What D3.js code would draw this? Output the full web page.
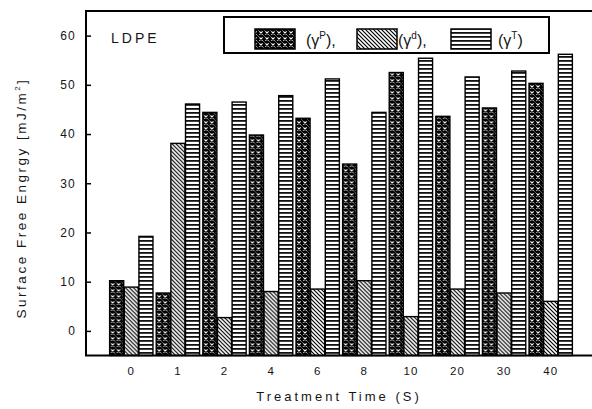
<!DOCTYPE html>
<html>
<head>
<meta charset="utf-8">
<script src="https://cdn.jsdelivr.net/npm/d3@7"></script>
<style>
  html, body { margin: 0; padding: 0; background: #fff; }
  svg { display: block; }
  text { font-family: "Liberation Sans", Arial, sans-serif; fill: #151515; }
</style>
</head>
<body>
<svg id="chart" width="592" height="409"></svg>
<script>
// Treatment times (s) and the three surface free energy components (mJ/m²)
const times = ["0", "1", "2", "4", "6", "8", "10", "20", "30", "40"];
const gammaP = [10.2, 7.7, 44.4, 39.8, 43.2, 33.9, 52.5, 43.6, 45.3, 50.3];
const gammaD = [8.9, 38.1, 2.7, 8.0, 8.5, 10.2, 2.9, 8.5, 7.7, 6.0];
const gammaT = [19.2, 46.1, 46.5, 47.8, 51.2, 44.4, 55.4, 51.6, 52.8, 56.2];
const seriesKeys = ["P", "d", "T"];
const yTicks = [0, 10, 20, 30, 40, 50, 60];

const svg = d3.select("#chart");

// fill patterns for the three series
const defs = svg.append("defs");

const pDots = defs.append("pattern").attr("id", "pat-P")
  .attr("patternUnits", "userSpaceOnUse").attr("width", 6).attr("height", 6);
pDots.append("rect").attr("width", 6).attr("height", 6).attr("fill", "#000");
pDots.append("path").attr("d", "M1.4,1.4L4.6,4.6M4.6,1.4L1.4,4.6")
  .attr("stroke", "#fff").attr("stroke-width", 1.1);
pDots.append("circle").attr("cx", 0).attr("cy", 0).attr("r", 0.7).attr("fill", "#fff");
pDots.append("circle").attr("cx", 6).attr("cy", 6).attr("r", 0.7).attr("fill", "#fff");

const pDiag = defs.append("pattern").attr("id", "pat-d")
  .attr("patternUnits", "userSpaceOnUse").attr("width", 4).attr("height", 4);
pDiag.append("rect").attr("width", 4).attr("height", 4).attr("fill", "#fff");
pDiag.append("path").attr("d", "M0,0L4,4M-1,3L1,5M3,-1L5,1")
  .attr("stroke", "#000").attr("stroke-width", 1.2);

const pHor = defs.append("pattern").attr("id", "pat-T")
  .attr("patternUnits", "userSpaceOnUse").attr("width", 4).attr("height", 4);
pHor.append("rect").attr("width", 4).attr("height", 4).attr("fill", "#fff");
pHor.append("rect").attr("y", 0).attr("width", 4).attr("height", 1.8).attr("fill", "#111");

const fills = { P: "url(#pat-P)", d: "url(#pat-d)", T: "url(#pat-T)" };
const values = { P: gammaP, d: gammaD, T: gammaT };

// plot area bounds
const plotLeft = 86, plotRight = 600, plotTop = 11, plotBottom = 355.5;
const y = d3.scaleLinear().domain([-5, 65]).range([plotBottom, plotTop]);
const x0 = d3.scaleBand().domain(times).range([108, 574])
  .paddingInner(0.07).paddingOuter(0.035);
const x1 = d3.scaleBand().domain(seriesKeys).range([0, x0.bandwidth()]).paddingInner(0.04);

// bars
const groups = svg.append("g").selectAll("g").data(times).join("g")
  .attr("transform", d => `translate(${x0(d)},0)`);
groups.selectAll("rect")
  .data((t, i) => seriesKeys.map(k => ({ key: k, value: values[k][i] })))
  .join("rect")
  .attr("x", d => x1(d.key))
  .attr("width", x1.bandwidth())
  .attr("y", d => y(d.value))
  .attr("height", d => y(-5) - y(d.value))
  .attr("fill", d => fills[d.key])
  .attr("stroke", "#000")
  .attr("stroke-width", 1.4);

// frame
svg.append("rect").attr("x", plotLeft).attr("y", plotTop)
  .attr("width", plotRight - plotLeft).attr("height", plotBottom - plotTop)
  .attr("fill", "none").attr("stroke", "#000").attr("stroke-width", 2);

// y axis
const yAxis = svg.append("g").attr("transform", `translate(${plotLeft},0)`)
  .call(d3.axisLeft(y).tickValues(yTicks).tickSize(-5).tickPadding(10));
yAxis.select(".domain").remove();
yAxis.selectAll("line").attr("stroke", "#000").attr("stroke-width", 1.5);
yAxis.selectAll("text").attr("font-size", 12).attr("letter-spacing", 1.2)
  .attr("fill", "#151515").style("font-family", "'Liberation Sans', Arial, sans-serif");

// x axis
const xAxis = svg.append("g").attr("transform", `translate(0,${plotBottom})`)
  .call(d3.axisBottom(x0).tickSize(0).tickPadding(11));
xAxis.select(".domain").remove();
xAxis.selectAll("text").attr("font-size", 11.5).attr("letter-spacing", 1)
  .attr("fill", "#151515").style("font-family", "'Liberation Sans', Arial, sans-serif");

// axis titles
svg.append("text").attr("x", 339).attr("y", 401).attr("text-anchor", "middle")
  .attr("font-size", 13).attr("letter-spacing", 3)
  .text("Treatment Time (S)");

const yTitle = svg.append("text")
  .attr("transform", "translate(26,198) rotate(-90)")
  .attr("text-anchor", "middle").attr("font-size", 13.5).attr("letter-spacing", 2.5);
yTitle.append("tspan").text("Surface Free Engrgy [mJ/m");
yTitle.append("tspan").attr("font-size", 8).attr("dy", -6).text("2");
yTitle.append("tspan").attr("dy", 6).text("]");

// sample label
svg.append("text").attr("x", 111).attr("y", 43).attr("font-size", 14)
  .attr("letter-spacing", 3).text("LDPE");

// legend
svg.append("rect").attr("x", 224).attr("y", 17).attr("width", 325).attr("height", 36)
  .attr("fill", "#fff").attr("stroke", "#000").attr("stroke-width", 2);
const legendItems = [
  { key: "P", sx: 255, tx: 306, suffix: ")," },
  { key: "d", sx: 357, tx: 398, suffix: ")," },
  { key: "T", sx: 451, tx: 498, suffix: ")" }
];
const leg = svg.append("g").selectAll("g").data(legendItems).join("g");
leg.append("rect").attr("x", d => d.sx).attr("y", 29).attr("width", 40).attr("height", 20)
  .attr("fill", d => fills[d.key]).attr("stroke", "#000").attr("stroke-width", 1.5);
const lt = leg.append("text").attr("x", d => d.tx).attr("y", 46).attr("font-size", 16);
lt.append("tspan").text("(γ");
lt.append("tspan").attr("font-size", 10).attr("dy", -7).text(d => d.key);
lt.append("tspan").attr("dy", 7).text(d => d.suffix);
</script>
</body>
</html>
